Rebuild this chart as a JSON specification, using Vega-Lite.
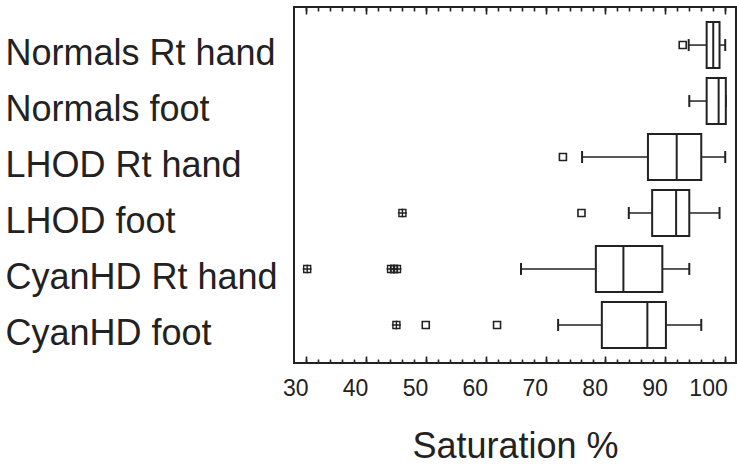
{
  "$schema": "https://vega.github.io/schema/vega-lite/v6.json",
  "width": 442,
  "height": 356,
  "autosize": {"type": "none"},
  "padding": {"left": 294, "top": 7, "right": 1, "bottom": 104},
  "background": "white",
  "config": {
    "view": {"stroke": "#222", "strokeWidth": 2},
    "font": "Liberation Sans"
  },
  "datasets": {
    "boxes": [
      {"group": "Normals Rt hand", "lower": 93.9, "q1": 96.9, "median": 98.0, "q3": 99.05, "upper": 100.0},
      {"group": "Normals foot", "lower": 94.0, "q1": 96.9, "median": 98.9, "q3": 100.1, "upper": 100.1},
      {"group": "LHOD Rt hand", "lower": 76.1, "q1": 87.1, "median": 91.9, "q3": 96.0, "upper": 100.0},
      {"group": "LHOD foot", "lower": 83.9, "q1": 87.8, "median": 91.8, "q3": 94.0, "upper": 99.05},
      {"group": "CyanHD Rt hand", "lower": 65.9, "q1": 78.4, "median": 83.0, "q3": 89.5, "upper": 94.0},
      {"group": "CyanHD foot", "lower": 72.1, "q1": 79.4, "median": 87.0, "q3": 90.1, "upper": 96.0}
    ],
    "outliers": [
      {"group": "Normals Rt hand", "value": 92.9, "kind": "near"},
      {"group": "LHOD Rt hand", "value": 72.9, "kind": "near"},
      {"group": "LHOD foot", "value": 76.0, "kind": "near"},
      {"group": "LHOD foot", "value": 46.1, "kind": "far"},
      {"group": "CyanHD Rt hand", "value": 30.2, "kind": "far"},
      {"group": "CyanHD Rt hand", "value": 44.2, "kind": "far"},
      {"group": "CyanHD Rt hand", "value": 44.7, "kind": "far"},
      {"group": "CyanHD Rt hand", "value": 45.2, "kind": "far"},
      {"group": "CyanHD foot", "value": 45.1, "kind": "far"},
      {"group": "CyanHD foot", "value": 50.0, "kind": "near"},
      {"group": "CyanHD foot", "value": 61.9, "kind": "near"}
    ]
  },
  "data": {"name": "boxes"},
  "encoding": {
    "y": {
      "field": "group",
      "type": "nominal",
      "sort": ["Normals Rt hand", "Normals foot", "LHOD Rt hand", "LHOD foot", "CyanHD Rt hand", "CyanHD foot"],
      "scale": {"type": "band", "paddingInner": 0, "paddingOuter": 0.18},
      "axis": {
        "title": null,
        "orient": "left",
        "ticks": false,
        "domain": false,
        "labelAlign": "left",
        "labelBaseline": "middle",
        "labelPadding": 289,
        "labelOffset": 9,
        "labelFontSize": 36,
        "labelFont": "Liberation Sans",
        "labelColor": "#222",
        "labelLimit": 0
      }
    }
  },
  "resolve": {"axis": {"x": "independent"}},
  "layer": [
    {
      "mark": {"type": "rule", "color": "#222", "strokeWidth": 1.5},
      "encoding": {
        "x": {
          "field": "lower", "type": "quantitative",
          "scale": {"domain": [28, 101.8], "nice": false, "zero": false},
          "axis": {
            "orient": "bottom",
            "values": [30, 40, 50, 60, 70, 80, 90, 100],
            "ticks": false,
            "domain": false,
            "grid": true,
            "gridColor": "#222",
            "gridWidth": 1.6,
            "gridOpacity": 1,
            "gridDash": [7, 342, 7],
            "labelPadding": 14,
            "labelAlign": "right",
            "labelOffset": 2,
            "labelFontSize": 23,
            "labelFont": "Liberation Sans",
            "labelColor": "#222",
            "labelBaseline": "top",
            "title": "Saturation %",
            "titleFontSize": 36,
            "titleFont": "Liberation Sans",
            "titleFontWeight": "normal",
            "titleColor": "#222",
            "titlePadding": 29
          }
        },
        "x2": {"field": "q1"}
      }
    },
    {
      "mark": {"type": "rule", "color": "#222", "strokeWidth": 1.5},
      "encoding": {
        "x": {
          "field": "q3", "type": "quantitative",
          "axis": {
            "orient": "bottom",
            "values": [30, 32, 34, 36, 38, 40, 42, 44, 46, 48, 50, 52, 54, 56, 58, 60, 62, 64, 66, 68, 70, 72, 74, 76, 78, 80, 82, 84, 86, 88, 90, 92, 94, 96, 98, 100],
            "ticks": false,
            "labels": false,
            "domain": false,
            "grid": true,
            "gridColor": "#222",
            "gridWidth": 1.6,
            "gridOpacity": 1,
            "gridDash": [4, 348, 4],
            "title": null
          }
        },
        "x2": {"field": "upper"}
      }
    },
    {
      "mark": {"type": "tick", "orient": "vertical", "color": "#222", "size": 12, "thickness": 2, "opacity": 1},
      "encoding": {
        "x": {"field": "lower", "type": "quantitative", "axis": null}
      }
    },
    {
      "mark": {"type": "tick", "orient": "vertical", "color": "#222", "size": 12, "thickness": 2, "opacity": 1},
      "encoding": {
        "x": {"field": "upper", "type": "quantitative", "axis": null}
      }
    },
    {
      "mark": {"type": "bar", "fill": "white", "stroke": "#222", "strokeWidth": 2, "size": 46, "opacity": 1},
      "encoding": {
        "x": {"field": "q1", "type": "quantitative", "axis": null},
        "x2": {"field": "q3"}
      }
    },
    {
      "mark": {"type": "tick", "orient": "vertical", "color": "#222", "size": 46, "thickness": 2, "opacity": 1},
      "encoding": {
        "x": {"field": "median", "type": "quantitative", "axis": null}
      }
    },
    {
      "data": {"name": "outliers"},
      "transform": [{"filter": "datum.kind === 'near'"}],
      "mark": {"type": "point", "shape": "square", "filled": false, "size": 49, "stroke": "#222", "strokeWidth": 1.6, "opacity": 1},
      "encoding": {
        "x": {"field": "value", "type": "quantitative", "axis": null}
      }
    },
    {
      "data": {"name": "outliers"},
      "transform": [{"filter": "datum.kind === 'far'"}],
      "mark": {"type": "point", "shape": "M-1,-1H1V1H-1Z M0,-1.3V1.3 M-1.3,0H1.3", "filled": false, "size": 49, "stroke": "#222", "strokeWidth": 1.4, "opacity": 1},
      "encoding": {
        "x": {"field": "value", "type": "quantitative", "axis": null}
      }
    }
  ]
}
